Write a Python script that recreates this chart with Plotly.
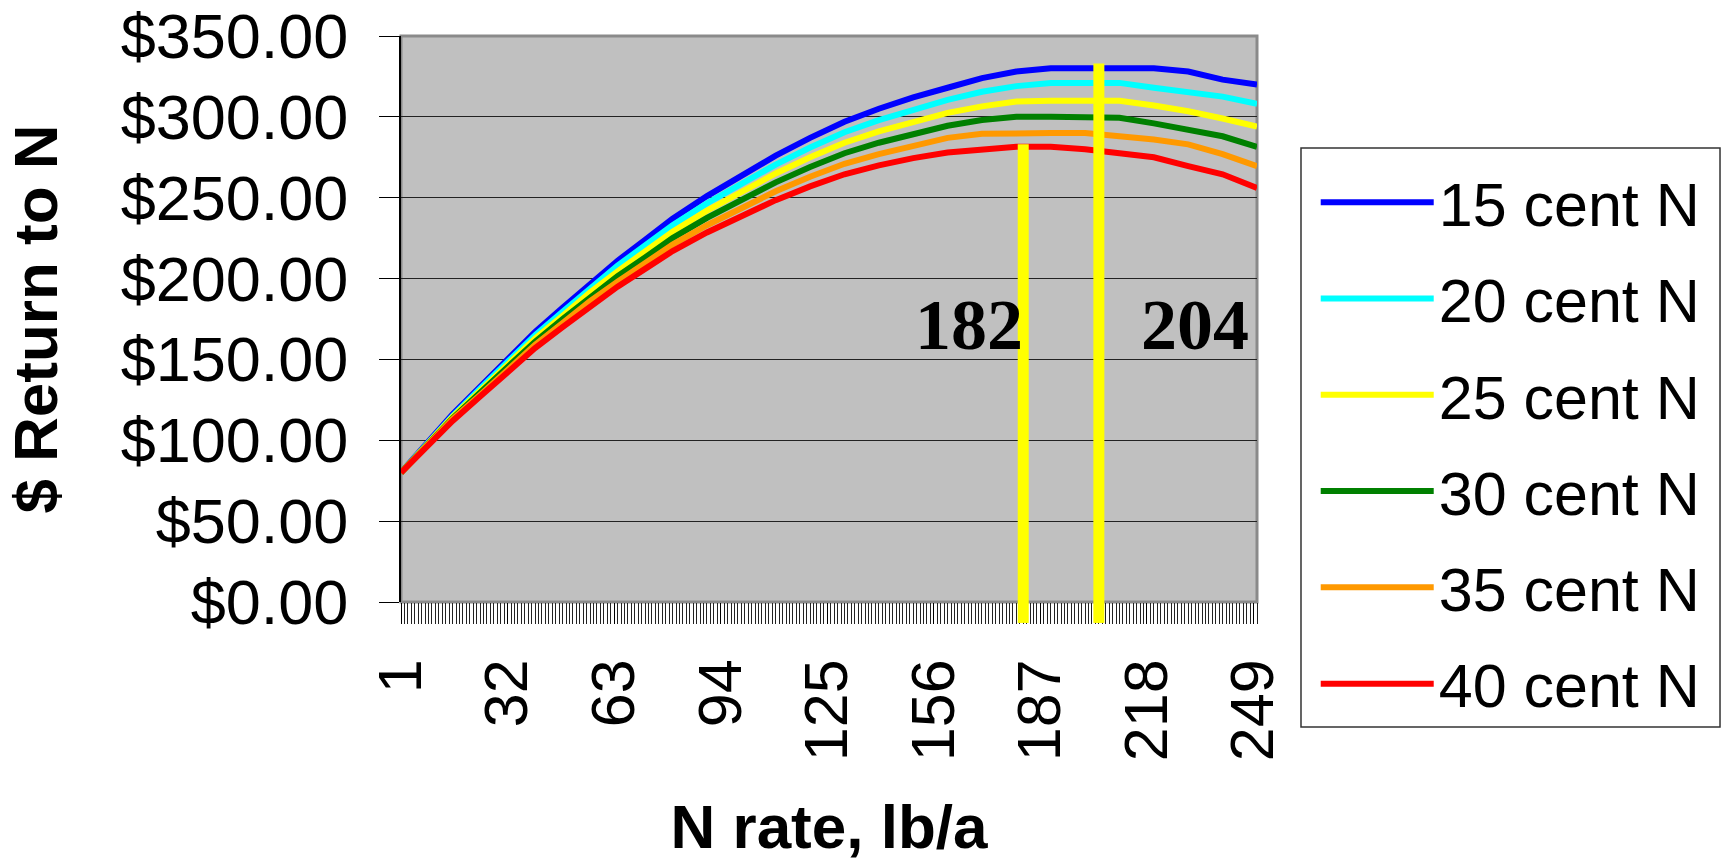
import plotly.graph_objects as go

# N rate (lb/a) sample points along the category axis
n_rate = [1, 8, 16, 24, 32, 40, 48, 56, 64, 72, 80, 90, 100, 110, 120, 130,
          140, 150, 160, 170, 180, 190, 200, 210, 220, 230, 240, 250]

# $ return to N for each nitrogen price
ret_15 = [80, 97, 116, 133, 150, 167, 182, 197, 211, 224, 237, 251, 264, 276, 287, 297,
          305, 312, 318, 324, 328, 330, 330, 330, 330, 328, 323, 320]
ret_20 = [80, 96.5, 115, 132, 148.5, 165, 179.5, 194, 208, 220.5, 233, 246.5, 259, 270.5, 281, 290.5,
          298, 304.5, 310.5, 315.5, 319, 321, 321, 321, 318, 315.5, 312.5, 308]
ret_25 = [80, 96, 114.5, 130.5, 147, 163, 177, 191.5, 204.5, 217, 229, 242, 254, 265, 275, 284,
          291, 297, 302.5, 306.5, 309.5, 310, 310, 310, 307, 303.5, 299, 294]
ret_30 = [80, 96, 113.5, 129.5, 145, 161, 175, 188.5, 201.5, 213, 225, 237.5, 249, 259.5, 269, 277.5,
          284, 289.5, 294.5, 298, 300, 300, 300, 299.5, 296, 292, 288, 281.5]
ret_35 = [80, 95.5, 113, 128, 143.5, 159, 172.5, 186, 198, 209.5, 221, 233, 244, 254, 263, 271,
          277, 282, 287, 289.5, 290, 290, 290, 288, 286, 283, 277, 269.5]
ret_40 = [80, 95, 112, 127, 142, 157, 170, 183, 195, 206, 217, 228.5, 239, 248.5, 257, 264.5,
          270, 274.5, 278, 280, 281.5, 281.5, 280, 277.5, 275, 269.5, 264.5, 256]

series_names = ["15 cent N", "20 cent N", "25 cent N", "30 cent N", "35 cent N", "40 cent N"]
series_values = [ret_15, ret_20, ret_25, ret_30, ret_35, ret_40]
series_colors = ["#0000FF", "#00FFFF", "#FFFF00", "#008000", "#FF9900", "#FF0000"]

# x-axis labels every 31 categories
tick_rates = [1, 32, 63, 94, 125, 156, 187, 218, 249]
tick_labels = [str(v) for v in tick_rates]

# economic optimum N rates (40 cent and 15 cent N) and the height of their markers
optimum_rates = [182, 204]
optimum_tops = [283, 333]

SANS = "Liberation Sans, Arial, sans-serif"
SERIF = "Liberation Serif, Times New Roman, serif"

fig = go.Figure()
for name, vals, col in zip(series_names, series_values, series_colors):
    fig.add_trace(go.Scatter(
        x=n_rate, y=vals, name=name, mode="lines", legendgroup=name,
        line=dict(color=col, width=6),
    ))

shapes = [
    # plot-area frame
    dict(type="rect", xref="paper", yref="paper", x0=0, x1=1, y0=0, y1=1,
         line=dict(color="#8a8a8a", width=3), layer="below"),
    # legend frame
    dict(type="rect", xref="paper", yref="paper", x0=1.0514, x1=1.5409, y0=-0.2208, y1=0.8021,
         line=dict(color="#333333", width=1.5), fillcolor="white", layer="below"),
]
for rate, top in zip(optimum_rates, optimum_tops):
    shapes.append(dict(type="line", xref="x", yref="y", x0=rate, x1=rate, y0=0, y1=top,
                       line=dict(color="#FFFF00", width=11), layer="above"))
    shapes.append(dict(type="line", xref="x", yref="paper", x0=rate, x1=rate, y0=-0.037, y1=0,
                       line=dict(color="#FFFF00", width=11), layer="above"))

annotations = [
    dict(x=optimum_rates[0], y=171, xref="x", yref="y", text=str(optimum_rates[0]),
         showarrow=False, xanchor="right", yanchor="middle", xshift=2,
         font=dict(family=SERIF, size=72, color="black", weight="bold")),
    dict(x=optimum_rates[1], y=171, xref="x", yref="y", text=str(optimum_rates[1]),
         showarrow=False, xanchor="left", yanchor="middle", xshift=40,
         font=dict(family=SERIF, size=72, color="black", weight="bold")),
]

fig.update_layout(
    template="none",
    width=1721, height=864,
    margin=dict(l=401, r=464, t=36, b=262, autoexpand=False),
    paper_bgcolor="white",
    plot_bgcolor="#C0C0C0",
    font=dict(family=SANS, color="black", size=61),
    shapes=shapes,
    annotations=annotations,
    showlegend=True,
    legend=dict(
        x=1.0686, y=0.788, xanchor="left", yanchor="top",
        bgcolor="rgba(0,0,0,0)", borderwidth=0,
        font=dict(family=SANS, size=61, color="black"),
        itemwidth=113, tracegroupgap=14, maxheight=1000,
    ),
    xaxis=dict(
        range=[1, 250], showgrid=False, zeroline=False, automargin=False,
        tickmode="array", tickvals=tick_rates, ticktext=tick_labels,
        ticks="outside", ticklen=21, tickcolor="black", tickwidth=1,
        tickangle=-90, ticklabelstandoff=11,
        tickfont=dict(family=SANS, size=61, color="black"),
        minor=dict(dtick=1, tick0=1, ticks="outside", ticklen=21,
                   tickcolor="#222", tickwidth=1),
        showline=False,
        title=dict(text="N rate, lb/a", standoff=44,
                   font=dict(family=SANS, size=62, color="black", weight="bold")),
    ),
    yaxis=dict(
        range=[0, 350], dtick=50, tick0=0, automargin=False,
        tickprefix="$", tickformat=".2f",
        showgrid=True, gridcolor="#222", gridwidth=1, zeroline=False,
        ticks="outside", ticklen=20, tickcolor="black", tickwidth=1,
        ticklabelstandoff=18,
        tickfont=dict(family=SANS, size=63, color="black"),
        showline=True, linecolor="black", linewidth=2,
        title=dict(text="$ Return to N", standoff=43,
                   font=dict(family=SANS, size=62, color="black", weight="bold")),
    ),
)

fig.write_html("out.html")
